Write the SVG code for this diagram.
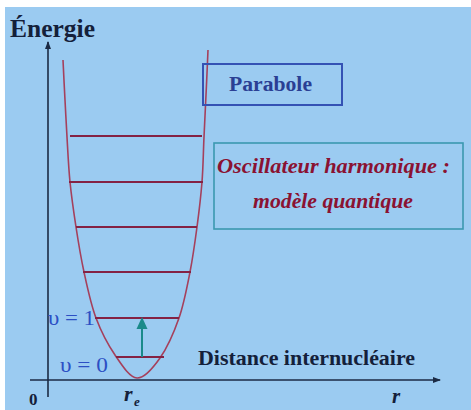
<svg xmlns="http://www.w3.org/2000/svg" width="471" height="410" viewBox="0 0 471 410">
<style>
.axis{stroke:#1b2a44;stroke-width:1.6;fill:none}
.curve{stroke:#a5405c;stroke-width:1.6;fill:none}
.level{stroke:#842244;stroke-width:2}
.lbl{font-family:"Liberation Serif",serif;font-weight:bold;fill:#14203a}
.nu{font-family:"Liberation Serif",serif;font-size:21px;fill:#2c4fc4}
</style>
<defs>
<marker id="ax" markerWidth="8" markerHeight="8" refX="7" refY="4" orient="auto" markerUnits="userSpaceOnUse"><path d="M0,1 L8,4 L0,7 Z" fill="#1b2a44"/></marker>
<marker id="tl" markerWidth="12" markerHeight="12" refX="10" refY="6" orient="auto" markerUnits="userSpaceOnUse"><path d="M0,0.5 L12,6 L0,11.5 Z" fill="#1a8a8a"/></marker>
</defs>
<rect width="471" height="410" fill="#ffffff"/>
<rect x="5" y="7" width="466" height="403" fill="#9bcbf1"/>
<g id="axes">
<line class="axis" x1="48" y1="397" x2="48" y2="42" marker-end="url(#ax)"/>
<line class="axis" x1="30" y1="380" x2="440" y2="380" marker-end="url(#ax)"/>
</g>
<g id="parabola">
<path class="curve" d="M63,60 C63.3,66.7 64.3,87.2 65,100 C65.7,112.8 66.2,123.3 67,137 C67.8,150.7 68.5,167 70,182 C71.5,197 73.7,212 76,227 C78.3,242 80.7,256.8 84,272 C87.3,287.2 90.8,304.2 96,318 C101.2,331.8 108.2,345 115,355 C121.8,365 129.5,377.5 137,378 C144.5,378.5 153,368 160,358 C167,348 174,332.3 179,318 C184,303.7 187,287.2 190,272 C193,256.8 195,242 197,227 C199,212 200.8,197 202,182 C203.2,167 203.3,151.5 204,137 C204.7,122.5 205.3,109.5 206,95 C206.7,80.5 207.7,57.5 208,50"/>
</g>
<g id="levels">
<line class="level" x1="70" y1="136" x2="202" y2="136"/>
<line class="level" x1="69" y1="182" x2="203" y2="182"/>
<line class="level" x1="76" y1="227" x2="197" y2="227"/>
<line class="level" x1="83" y1="272" x2="191" y2="272"/>
<line class="level" x1="95" y1="318" x2="179" y2="318"/>
<line class="level" x1="116" y1="357" x2="164" y2="357"/>
</g>
<g id="transition">
<line x1="142" y1="357" x2="142" y2="319" stroke="#1a8a8a" stroke-width="2" marker-end="url(#tl)"/>
</g>
<g id="energie-label">
<text class="lbl" x="10" y="37" font-size="26" textLength="85" lengthAdjust="spacingAndGlyphs">Énergie</text>
</g>
<g id="parabole-box">
<rect x="203" y="64" width="139" height="41" fill="none" stroke="#3452b4" stroke-width="2"/>
<text x="229" y="91" font-family="Liberation Serif,serif" font-weight="bold" font-size="20" fill="#2a3f94" textLength="83" lengthAdjust="spacingAndGlyphs">Parabole</text>
</g>
<g id="oscillateur-box">
<rect x="214" y="143" width="249" height="86" fill="none" stroke="#3b98b0" stroke-width="1.6"/>
<text x="217" y="173" font-family="Liberation Serif,serif" font-weight="bold" font-style="italic" font-size="20" fill="#8a1232" textLength="233" lengthAdjust="spacingAndGlyphs">Oscillateur harmonique :</text>
<text x="253" y="208" font-family="Liberation Serif,serif" font-weight="bold" font-style="italic" font-size="20" fill="#8a1232" textLength="160" lengthAdjust="spacingAndGlyphs">modèle quantique</text>
</g>
<g id="nu-labels">
<text class="nu" x="48" y="325" textLength="47" lengthAdjust="spacingAndGlyphs">υ = 1</text>
<text class="nu" x="60" y="372" textLength="48" lengthAdjust="spacingAndGlyphs">υ = 0</text>
</g>
<g id="distance-label">
<text class="lbl" x="198" y="365" font-size="22" textLength="217" lengthAdjust="spacingAndGlyphs">Distance internucléaire</text>
</g>
<g id="axis-labels">
<text class="lbl" x="29" y="405" font-size="17">0</text>
<text class="lbl" x="124" y="401" font-size="22" font-style="italic">r</text>
<text class="lbl" x="134" y="406" font-size="13" font-style="italic">e</text>
<text class="lbl" x="392" y="403" font-size="21" font-style="italic">r</text>
</g>
</svg>
